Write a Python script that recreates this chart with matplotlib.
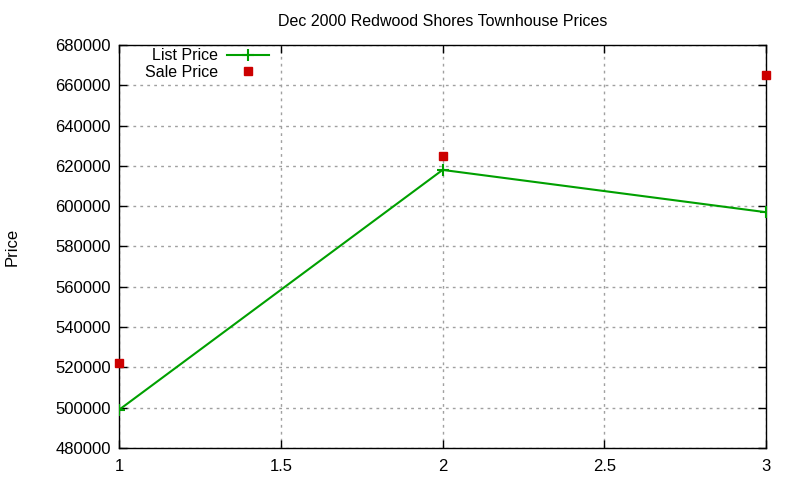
import matplotlib.pyplot as plt
from matplotlib.ticker import MultipleLocator

plt.rcParams['font.family'] = ['Liberation Sans', 'DejaVu Sans']

x = [1, 2, 3]
list_price = [499000, 618000, 597000]
sale_price = [522000, 625000, 665000]

fig = plt.figure(figsize=(8, 4.8), dpi=100)
ax = fig.add_axes([0.149, 0.0667, 0.8085, 0.8396])

ax.plot(x, list_price, color='#00a000', lw=1.5, marker='+', ms=8, mew=1.5,
        label='List Price', zorder=3)
ax.plot(x, sale_price, color='#cc0000', ls='none', marker='s', ms=6,
        label='Sale Price', clip_on=False, zorder=3)

ax.set_xlim(1, 3)
ax.set_ylim(480000, 680000)
ax.yaxis.set_major_locator(MultipleLocator(20000))
ax.set_xticks([1, 1.5, 2, 2.5, 3], ['1', '1.5', '2', '2.5', '3'])
ax.tick_params(direction='in', top=True, right=True, length=6, labelsize=12,
               width=1)
ax.tick_params(axis='y', pad=6)
ax.tick_params(axis='x', pad=8)
ax.grid(True, color='#a0a0a0', ls=(0, (2, 3)), lw=1)
for s in ax.spines.values():
    s.set_linewidth(1)

ax.set_title('Dec 2000 Redwood Shores Townhouse Prices', fontsize=11.5, pad=14)
ax.set_ylabel('Price', fontsize=12)
ax.yaxis.set_label_coords(-0.1546, 0.5)

ax.legend(loc='upper left', bbox_to_anchor=(0.022, 1.02), frameon=False,
          markerfirst=False, fontsize=11.5, handlelength=2.6, borderaxespad=0.3,
          labelspacing=0.12, handletextpad=0.6)

plt.savefig('out.png', format='png')
